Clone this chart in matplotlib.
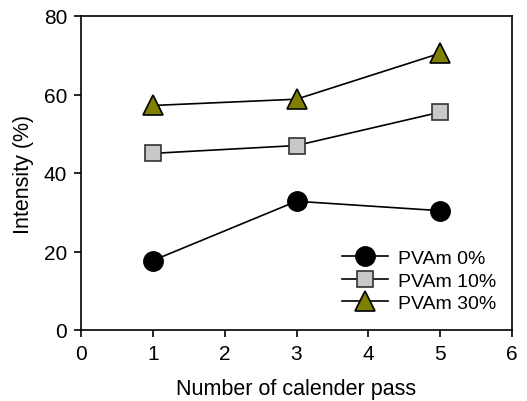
import matplotlib
matplotlib.use('Agg')
import matplotlib.pyplot as plt

plt.rcParams['font.family'] = ['Liberation Sans', 'DejaVu Sans']

passes = [1, 3, 5]
pvam_0 = [17.7, 32.8, 30.4]
pvam_10 = [45.0, 47.0, 55.5]
pvam_30 = [57.2, 58.8, 70.5]

fig = plt.figure(figsize=(5.27, 4.02), dpi=100)
ax = fig.add_axes([81 / 527, 1 - 331 / 402, 431 / 527, 314 / 402])

ax.plot(passes, pvam_0, '-o', color='black', lw=1.2, markersize=14,
        markerfacecolor='black', markeredgecolor='black', label='PVAm 0%')
ax.plot(passes, pvam_10, '-s', color='black', lw=1.2, markersize=11,
        markerfacecolor='#c8c8c8', markeredgecolor='#333333', markeredgewidth=1.2,
        label='PVAm 10%')
ax.plot(passes, pvam_30, '-^', color='black', lw=1.2, markersize=14,
        markerfacecolor='#808000', markeredgecolor='black', markeredgewidth=1.2,
        label='PVAm 30%')

ax.set_xlim(0, 6)
ax.set_ylim(0, 80)
ax.set_xticks(range(0, 7))
ax.set_yticks(range(0, 81, 20))
ax.tick_params(direction='out', length=5, width=1.2, labelsize=15, pad=5)
ax.tick_params(top=False, right=False)
for s in ax.spines.values():
    s.set_linewidth(1.2)

ax.set_xlabel('Number of calender pass', fontsize=15.5, labelpad=11)
ax.set_ylabel('Intensity (%)', fontsize=15.5, labelpad=7)

ax.legend(loc='center left', frameon=False, fontsize=14, handlelength=2.4,
          handletextpad=0.5, labelspacing=0.25, borderaxespad=0,
          borderpad=0, bbox_to_anchor=(0.605, 0.157))

fig.savefig('out.png', dpi=100)
